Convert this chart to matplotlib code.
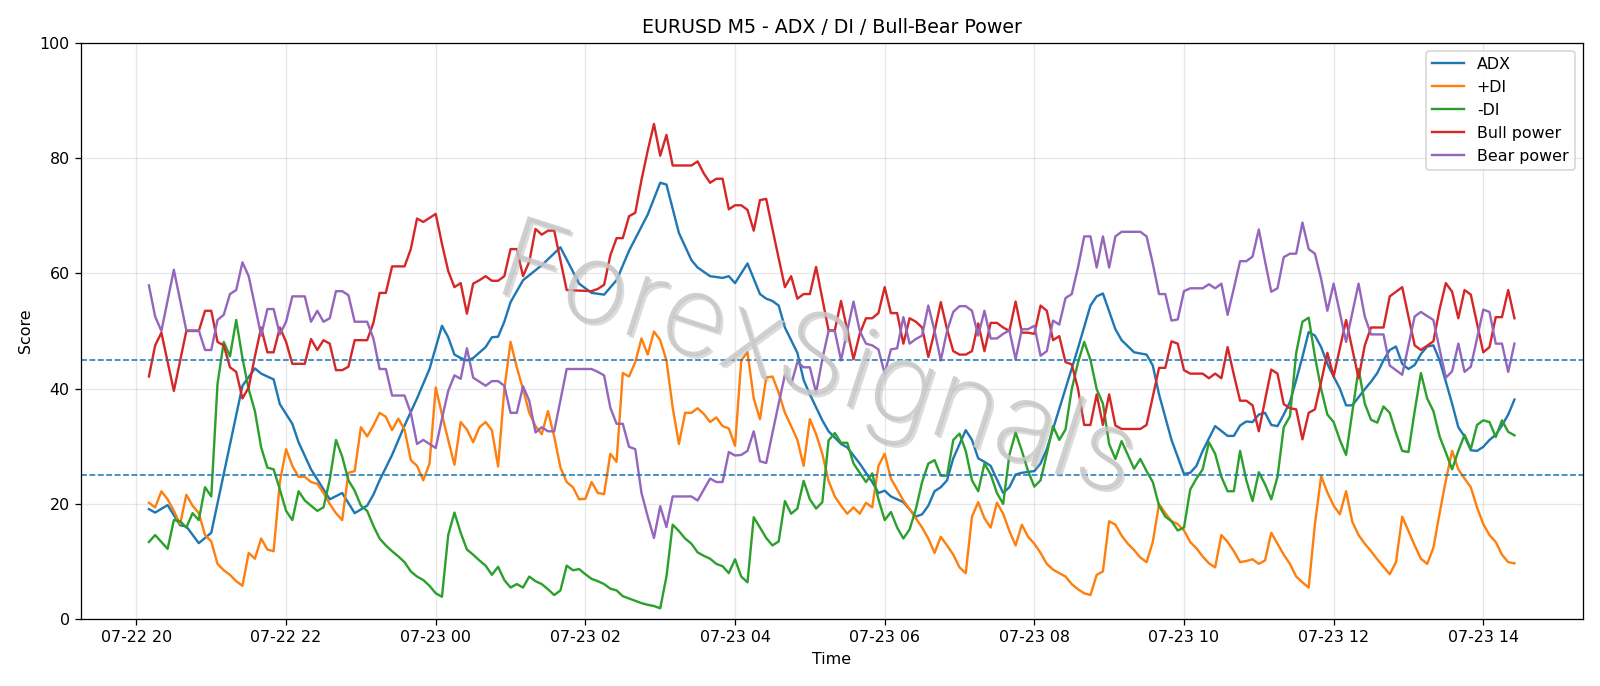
import datetime as dt
import matplotlib
matplotlib.use("Agg")
import matplotlib.pyplot as plt
import matplotlib.dates as mdates
import matplotlib.patheffects as pe
from matplotlib import font_manager as fm

# M5 bars, index 0 = 07-22 20:10; pairs are (bar index, value)
start = dt.datetime(2025, 7, 22, 20, 10)

adx = [(0,19.1),(1,18.5),(3,19.8),(5,16.3),(6,16.1),(8,13.2),(10,15.0),(15,40.5),(17,43.5),(18,42.6),(20,41.6),(21,37.3),(23,33.9),(24,30.7),(26,26.0),(29,20.8),(31,21.9),(33,18.4),(35,19.7),(36,21.6),(37,24.1),(39,28.5),(41,33.6),(43,38.3),(45,43.4),(47,50.9),(48,48.9),(49,45.9),(50,45.3),(51,44.9),(52,45.3),(54,47.2),(55,48.9),(56,49.0),(57,51.6),(58,55.0),(60,58.8),(63,61.4),(66,64.5),(69,58.2),(71,56.6),(73,56.3),(75,58.8),(77,63.9),(80,70.2),(82,75.7),(83,75.4),(85,67.0),(87,62.3),(88,61.0),(90,59.5),(92,59.2),(93,59.5),(94,58.3),(96,61.7),(98,56.4),(99,55.6),(100,55.2),(101,54.4),(102,50.6),(104,46.2),(105,41.5),(106,39.0),(108,34.5),(109,32.6),(111,30.4),(112,29.8),(114,27.0),(116,23.8),(117,21.9),(118,22.3),(119,21.3),(121,20.3),(123,17.8),(124,18.2),(125,19.7),(126,22.2),(127,22.9),(128,24.1),(129,27.9),(131,32.8),(132,31.1),(133,27.9),(134,27.3),(135,26.6),(137,21.9),(138,22.9),(139,25.1),(140,25.4),(142,25.7),(143,27.0),(144,29.5),(149,47.0),(151,54.4),(152,56.0),(153,56.5),(155,50.3),(156,48.4),(158,46.3),(160,45.9),(161,44.0),(162,39.0),(164,31.1),(166,25.2),(167,25.4),(168,26.6),(169,29.2),(171,33.5),(173,31.8),(174,31.8),(175,33.6),(176,34.3),(177,34.2),(178,35.5),(179,35.8),(180,33.7),(181,33.5),(182,35.5),(183,37.7),(184,41.5),(185,45.5),(186,49.8),(187,49.2),(188,47.2),(189,44.3),(190,42.1),(191,40.0),(192,37.1),(193,37.1),(194,38.5),(195,39.9),(196,41.2),(197,42.7),(198,44.9),(199,46.7),(200,47.3),(201,44.3),(202,43.4),(203,44.1),(204,46.0),(205,47.3),(206,47.5),(207,44.9),(208,41.2),(209,37.4),(210,33.3),(211,31.7),(212,29.3),(213,29.2),(214,29.9),(215,31.1),(216,32.0),(217,33.6),(218,35.5),(219,38.1)]

plus_di = [(0,20.2),(1,19.4),(2,22.2),(3,20.8),(4,18.8),(5,16.5),(6,21.6),(7,19.7),(8,18.4),(9,14.6),(10,13.5),(11,9.6),(12,8.5),(13,7.7),(14,6.6),(15,5.8),(16,11.5),(17,10.5),(18,14.0),(19,12.1),(20,11.8),(21,23.8),(22,29.5),(23,26.6),(24,24.7),(25,24.7),(26,23.8),(27,23.5),(28,21.9),(29,20.0),(30,18.4),(31,17.2),(32,25.4),(33,25.7),(34,33.3),(35,31.7),(36,33.6),(37,35.8),(38,35.1),(39,32.8),(40,34.8),(41,32.9),(42,27.6),(43,26.6),(44,24.1),(45,27.0),(46,40.2),(47,35.5),(48,31.1),(49,26.8),(50,34.2),(51,32.9),(52,30.7),(53,33.3),(54,34.2),(55,32.8),(56,26.5),(57,39.9),(58,48.1),(59,43.7),(60,39.9),(61,35.8),(62,33.5),(63,32.1),(64,36.1),(65,31.7),(66,26.3),(67,23.8),(68,22.9),(69,20.8),(70,20.9),(71,23.8),(72,21.9),(73,21.7),(74,28.7),(75,27.3),(76,42.7),(77,42.1),(78,44.6),(79,48.7),(80,45.9),(81,49.9),(82,48.4),(83,44.9),(84,36.7),(85,30.4),(86,35.8),(87,35.8),(88,36.6),(89,35.6),(90,34.2),(91,35.0),(92,33.5),(93,33.1),(94,30.1),(95,44.9),(96,46.3),(97,38.3),(98,34.7),(99,41.9),(100,42.1),(101,39.3),(102,35.8),(103,33.5),(104,31.1),(105,26.6),(106,34.7),(107,32.1),(108,28.7),(109,24.0),(110,21.3),(111,19.7),(112,18.3),(113,19.4),(114,18.3),(115,20.2),(116,19.4),(117,26.6),(118,28.7),(119,24.4),(120,22.5),(121,20.6),(122,19.1),(123,17.5),(124,15.9),(125,14.0),(126,11.5),(127,14.3),(128,12.8),(129,11.2),(130,9.0),(131,8.0),(132,17.8),(133,20.3),(134,17.5),(135,15.9),(136,20.2),(137,18.3),(138,15.3),(139,12.8),(140,16.4),(141,14.3),(142,13.1),(143,11.5),(144,9.6),(145,8.6),(146,8.0),(147,7.4),(148,6.1),(149,5.2),(150,4.5),(151,4.2),(152,7.7),(153,8.3),(154,17.0),(155,16.4),(156,14.5),(157,13.1),(158,12.0),(159,10.7),(160,9.9),(161,13.4),(162,20.0),(163,18.4),(164,17.0),(165,16.5),(166,15.4),(167,13.4),(168,12.3),(169,10.9),(170,9.7),(171,9.0),(172,14.6),(173,13.4),(174,11.8),(175,9.9),(176,10.1),(177,10.4),(178,9.6),(179,10.2),(180,15.0),(181,13.1),(182,11.2),(183,9.6),(184,7.4),(185,6.4),(186,5.5),(187,16.5),(188,24.8),(189,22.0),(190,19.7),(191,18.2),(192,22.2),(193,16.9),(194,14.6),(195,13.1),(196,11.8),(197,10.4),(198,9.1),(199,7.8),(200,9.9),(201,17.8),(202,15.3),(203,12.8),(204,10.5),(205,9.6),(206,12.4),(207,18.4),(208,24.1),(209,29.2),(210,26.0),(211,24.4),(212,22.9),(213,19.4),(214,16.5),(215,14.6),(216,13.4),(217,11.2),(218,9.9),(219,9.7)]

minus_di = [(0,13.4),(1,14.6),(2,13.4),(3,12.2),(4,17.2),(5,17.0),(6,15.9),(7,18.4),(8,17.2),(9,22.9),(10,21.3),(11,40.8),(12,48.1),(13,45.6),(14,51.9),(15,45.3),(16,39.9),(17,36.1),(18,29.8),(19,26.3),(20,26.0),(21,22.5),(22,18.8),(23,17.2),(24,22.2),(25,20.6),(26,19.7),(27,18.8),(28,19.4),(29,24.2),(30,31.1),(31,28.2),(32,24.1),(33,22.3),(34,19.7),(35,18.8),(36,16.2),(37,14.0),(38,12.8),(39,11.8),(40,10.9),(41,9.9),(42,8.3),(43,7.4),(44,6.8),(45,5.8),(46,4.5),(47,3.9),(48,14.6),(49,18.5),(50,15.0),(51,12.1),(52,11.2),(53,10.2),(54,9.3),(55,7.7),(56,9.1),(57,6.8),(58,5.5),(59,6.1),(60,5.5),(61,7.4),(62,6.6),(63,6.1),(64,5.2),(65,4.2),(66,5.0),(67,9.3),(68,8.5),(69,8.7),(70,7.8),(71,7.0),(72,6.6),(73,6.1),(74,5.3),(75,5.0),(76,4.0),(77,3.6),(78,3.2),(79,2.8),(80,2.5),(81,2.3),(82,1.9),(83,7.4),(84,16.4),(85,15.3),(86,14.0),(87,13.1),(88,11.6),(89,11.0),(90,10.5),(91,9.6),(92,9.2),(93,8.0),(94,10.4),(95,7.4),(96,6.4),(97,17.7),(98,15.9),(99,14.1),(100,12.8),(101,13.5),(102,20.5),(103,18.3),(104,19.2),(105,24.0),(106,20.8),(107,19.2),(108,20.3),(109,31.0),(110,32.3),(111,30.6),(112,30.6),(113,27.0),(114,25.4),(115,23.8),(116,25.3),(117,20.8),(118,17.2),(119,18.6),(120,15.9),(121,14.0),(122,15.6),(123,19.1),(124,23.8),(125,27.0),(126,27.6),(127,24.9),(128,24.9),(129,31.1),(130,32.2),(131,29.2),(132,24.1),(133,22.2),(134,27.0),(135,25.1),(136,21.9),(137,20.0),(138,28.5),(139,32.4),(140,29.2),(141,25.7),(142,23.0),(143,24.1),(144,28.7),(145,33.5),(146,31.1),(147,32.9),(148,39.9),(149,44.5),(150,48.1),(151,45.0),(152,39.9),(153,37.4),(154,30.4),(155,27.8),(156,30.9),(157,28.5),(158,26.1),(159,27.8),(160,25.7),(161,23.8),(162,19.7),(163,17.8),(164,17.0),(165,15.4),(166,15.9),(167,22.5),(168,24.4),(169,26.0),(170,30.7),(171,28.7),(172,24.7),(173,22.2),(174,22.2),(175,29.2),(176,24.1),(177,20.5),(178,25.5),(179,23.4),(180,20.8),(181,24.7),(182,33.3),(183,35.2),(184,46.2),(185,51.6),(186,52.3),(187,45.6),(188,39.9),(189,35.5),(190,34.2),(191,31.1),(192,28.5),(194,43.4),(195,37.4),(196,34.6),(197,34.1),(198,36.9),(199,35.8),(200,32.3),(201,29.2),(202,29.0),(203,36.1),(204,42.7),(205,38.3),(206,36.1),(207,31.7),(208,28.9),(209,26.0),(210,29.2),(211,32.0),(212,29.5),(213,33.7),(214,34.5),(215,34.2),(216,31.6),(217,34.5),(218,32.5),(219,31.9)]

bull = [(0,42.1),(1,47.5),(2,49.7),(4,39.6),(6,50.0),(8,50.0),(9,53.5),(10,53.5),(11,48.1),(12,47.5),(13,43.7),(14,42.9),(15,38.3),(16,40.2),(17,45.6),(18,50.6),(19,46.3),(20,46.3),(21,50.6),(22,48.1),(23,44.3),(25,44.3),(26,48.6),(27,46.7),(28,48.4),(29,47.8),(30,43.2),(31,43.2),(32,43.8),(33,48.4),(35,48.4),(36,51.4),(37,56.6),(38,56.6),(39,61.2),(41,61.2),(42,64.2),(43,69.5),(44,68.9),(46,70.3),(47,65.1),(48,60.4),(49,57.6),(50,58.3),(51,53.0),(52,58.2),(53,58.8),(54,59.5),(55,58.7),(56,58.7),(57,59.5),(58,64.2),(59,64.2),(60,59.5),(61,62.0),(62,67.7),(63,66.7),(64,67.4),(65,67.4),(67,57.1),(71,56.9),(72,57.3),(73,58.0),(74,63.1),(75,66.1),(76,66.1),(77,69.9),(78,70.5),(79,76.2),(80,81.3),(81,85.9),(82,80.4),(83,84.0),(84,78.7),(87,78.7),(88,79.4),(89,77.3),(90,75.7),(91,76.4),(92,76.4),(93,71.1),(94,71.8),(95,71.8),(96,71.0),(97,67.4),(98,72.7),(99,72.9),(100,67.7),(101,62.6),(102,57.6),(103,59.5),(104,55.6),(105,56.4),(106,56.4),(107,61.1),(108,55.6),(109,50.1),(110,50.1),(111,55.2),(112,50.1),(113,45.1),(114,49.5),(115,52.2),(116,52.2),(117,53.1),(118,57.6),(119,53.1),(120,53.1),(121,47.8),(122,52.2),(123,51.6),(124,50.6),(125,45.5),(126,49.9),(127,55.0),(128,50.3),(129,46.5),(130,45.9),(131,45.9),(132,46.5),(133,51.3),(134,46.5),(135,51.4),(136,51.4),(137,50.6),(138,50.0),(139,55.1),(140,49.7),(141,49.7),(142,49.5),(143,54.4),(144,53.5),(145,48.4),(146,49.1),(147,44.6),(148,44.2),(149,40.0),(150,33.7),(151,33.7),(152,39.0),(153,33.7),(154,39.0),(155,33.6),(156,33.0),(159,33.0),(160,33.7),(161,38.6),(162,43.6),(163,43.6),(164,48.2),(165,47.8),(166,43.2),(167,42.6),(169,42.6),(170,41.8),(171,42.6),(172,41.8),(173,47.2),(174,42.4),(175,37.9),(176,37.9),(177,37.1),(178,32.6),(179,38.0),(180,43.3),(181,42.6),(182,37.3),(183,36.6),(184,36.4),(185,31.2),(186,35.8),(187,36.4),(188,41.2),(189,46.2),(190,42.1),(192,51.9),(194,41.8),(195,47.5),(196,50.6),(198,50.6),(199,56.0),(201,57.6),(202,52.5),(203,47.5),(204,46.7),(206,48.2),(207,53.8),(208,58.3),(209,56.8),(210,52.2),(211,57.1),(212,56.3),(213,51.3),(214,46.3),(215,47.2),(216,52.4),(217,52.4),(218,57.1),(219,52.2)]

bear = [(0,57.9),(1,52.5),(2,50.0),(4,60.6),(6,50.1),(8,50.1),(9,46.7),(10,46.7),(11,51.9),(12,52.8),(13,56.4),(14,57.1),(15,61.9),(16,59.5),(17,54.4),(18,49.2),(19,53.8),(20,53.8),(21,49.4),(22,51.6),(23,56.0),(25,56.0),(26,51.6),(27,53.5),(28,51.6),(29,52.2),(30,56.9),(31,56.9),(32,56.2),(33,51.6),(35,51.6),(36,48.7),(37,43.4),(38,43.4),(39,38.8),(41,38.8),(42,35.8),(43,30.4),(44,31.1),(46,29.7),(47,34.8),(48,39.6),(49,42.3),(50,41.7),(51,47.0),(52,41.9),(53,41.2),(54,40.5),(55,41.3),(56,41.3),(57,40.5),(58,35.8),(59,35.8),(60,40.4),(61,37.9),(62,32.4),(63,33.3),(64,32.6),(65,32.6),(67,43.4),(71,43.4),(72,42.9),(73,42.3),(74,36.7),(75,33.9),(76,33.9),(77,29.9),(78,29.5),(79,21.9),(80,17.8),(81,14.1),(82,19.6),(83,16.0),(84,21.3),(87,21.3),(88,20.6),(89,22.5),(90,24.4),(91,23.8),(92,23.8),(93,29.0),(94,28.4),(95,28.5),(96,29.2),(97,32.6),(98,27.4),(99,27.1),(100,32.3),(101,37.4),(102,42.4),(103,40.7),(104,44.6),(105,43.7),(106,43.7),(107,39.3),(108,45.1),(109,50.0),(110,50.0),(111,44.9),(112,50.0),(113,55.1),(114,50.0),(115,47.8),(116,47.5),(117,46.8),(118,42.6),(119,46.8),(120,47.0),(121,52.4),(122,47.8),(123,48.6),(124,49.2),(125,54.4),(126,50.0),(127,44.9),(128,50.0),(129,53.3),(130,54.3),(131,54.3),(132,53.5),(133,49.2),(134,53.5),(135,48.7),(136,48.7),(137,49.5),(138,50.1),(139,45.1),(140,50.3),(141,50.3),(142,50.9),(143,45.7),(144,46.5),(145,51.8),(146,51.1),(147,55.7),(148,56.4),(149,61.0),(150,66.4),(151,66.4),(152,61.0),(153,66.4),(154,61.0),(155,66.4),(156,67.2),(159,67.2),(160,66.4),(161,61.7),(162,56.4),(163,56.4),(164,51.8),(165,52.0),(166,56.9),(167,57.4),(169,57.4),(170,58.1),(171,57.4),(172,58.2),(173,52.8),(174,57.4),(175,62.1),(176,62.1),(177,62.9),(178,67.6),(179,62.1),(180,56.8),(181,57.4),(182,62.8),(183,63.4),(184,63.4),(185,68.8),(186,64.2),(187,63.4),(188,59.0),(189,53.5),(190,58.2),(192,48.1),(194,58.2),(195,52.5),(196,49.4),(198,49.4),(199,44.0),(201,42.4),(202,47.5),(203,52.5),(204,53.3),(206,51.9),(207,46.8),(208,41.9),(209,43.0),(210,47.8),(211,42.9),(212,43.8),(213,48.7),(214,53.7),(215,53.3),(216,47.8),(217,47.8),(218,42.9),(219,47.8)]

levels = [25, 45]


def unpack(pts):
    t = [start + dt.timedelta(minutes=5 * i) for i, _ in pts]
    v = [y for _, y in pts]
    return t, v


# thin font for the watermark, whatever light weight is installed
def light_font():
    best, path = None, None
    for f in fm.fontManager.ttflist:
        if f.name not in ('Lato', 'Roboto', 'Open Sans', 'Inter', 'Noto Sans', 'DejaVu Sans'):
            continue
        if f.style != 'normal':
            continue
        w = f.weight if isinstance(f.weight, int) else fm.weight_dict.get(f.weight, 400)
        d = abs(w - 200)
        if best is None or d < best:
            best, path = d, f.fname
    return fm.FontProperties(fname=path) if path else fm.FontProperties()


fig = plt.figure(figsize=(14, 6.0025), dpi=1600 / 14)
ax = fig.add_subplot(111)
fig.subplots_adjust(left=0.0504, right=0.9892, top=0.9378, bottom=0.0973)

for pts, name in [(adx, 'ADX'), (plus_di, '+DI'), (minus_di, '-DI'),
                  (bull, 'Bull power'), (bear, 'Bear power')]:
    t, v = unpack(pts)
    ax.plot(t, v, label=name)

for lv in levels:
    ax.axhline(lv, linestyle='--', linewidth=1)

ax.set_ylim(0, 100)
ax.set_title('EURUSD M5 - ADX / DI / Bull-Bear Power')
ax.set_xlabel('Time')
ax.set_ylabel('Score')
ax.xaxis.set_major_locator(mdates.HourLocator(byhour=range(0, 24, 2)))
ax.xaxis.set_major_formatter(mdates.DateFormatter('%m-%d %H'))
ax.grid(True, alpha=0.3)
ax.legend(loc='upper right')

# watermark
fp = light_font()
fp.set_size(71)
fig.text(0.51, 0.468, 'ForexSignals', fontproperties=fp, color='#c8c8c8', alpha=0.85,
         rotation=-18, ha='center', va='center',
         path_effects=[pe.withSimplePatchShadow(offset=(1.5, -1.5), shadow_rgbFace='#999999', alpha=0.35)])

fig.savefig('out.png')
